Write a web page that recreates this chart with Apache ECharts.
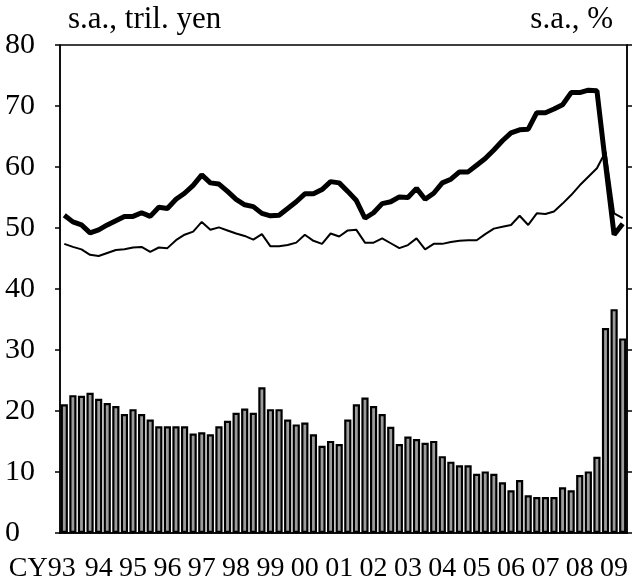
<!DOCTYPE html>
<html>
<head>
<meta charset="utf-8">
<script src="https://cdn.jsdelivr.net/npm/echarts@6/dist/echarts.min.js"></script>
<style>
  html, body { margin: 0; padding: 0; background: #fff; }
  #chart { width: 634px; height: 588px; }
</style>
</head>
<body>
<div id="chart"></div>
<script>
// quarters 1993Q1 - 2009Q2
const years = ['93', '94', '95', '96', '97', '98', '99', '00', '01', '02', '03', '04', '05', '06', '07', '08', '09'];
const quarters = [];
years.forEach(function (y) {
    for (let q = 1; q <= 4; q++) {
        if (y === '09' && q > 2) break;
        quarters.push(y + 'Q' + q);
    }
});

// bars, s.a., tril. yen
const barValues = [
    21.1, 22.6, 22.5, 23.0, 22.0, 21.3, 20.8, 19.5,
    20.3, 19.5, 18.6, 17.5, 17.5, 17.5, 17.5, 16.3,
    16.5, 16.2, 17.5, 18.4, 19.7, 20.4, 19.7, 23.9,
    20.3, 20.3, 18.6, 17.8, 18.1, 16.2, 14.3, 15.1,
    14.6, 18.6, 21.1, 22.2, 20.8, 19.5, 17.4, 14.6,
    15.8, 15.4, 14.8, 15.1, 12.6, 11.7, 11.1, 11.1,
    9.7, 10.1, 9.7, 8.3, 7.0, 8.7, 6.2, 5.9,
    5.9, 5.9, 7.5, 7.0, 9.5, 10.1, 12.5, 33.6,
    36.7, 31.9
];

// thick line, s.a., %
const thickLine = [
    52.1, 51.0, 50.5, 49.2, 49.7, 50.5, 51.2, 51.9,
    51.9, 52.5, 51.9, 53.4, 53.2, 54.7, 55.7, 57.0,
    58.7, 57.4, 57.2, 56.0, 54.7, 53.8, 53.5, 52.4,
    52.0, 52.1, 53.2, 54.3, 55.6, 55.6, 56.3, 57.6,
    57.4, 56.0, 54.5, 51.6, 52.5, 54.0, 54.3, 55.1,
    55.0, 56.5, 54.7, 55.7, 57.4, 58.0, 59.2, 59.2,
    60.3, 61.4, 62.8, 64.3, 65.6, 66.1, 66.2, 68.9,
    68.9, 69.5, 70.2, 72.2, 72.2, 72.6, 72.5, 60.5,
    48.9, 50.7
];

// thin line, s.a., %
const thinLine = [
    47.4, 46.9, 46.5, 45.6, 45.4, 45.9, 46.4, 46.5,
    46.8, 46.9, 46.1, 46.8, 46.7, 48.0, 48.9, 49.4,
    51.0, 49.7, 50.1, 49.6, 49.1, 48.7, 48.1, 49.0,
    47.0, 47.0, 47.2, 47.6, 48.9, 47.9, 47.4, 49.1,
    48.6, 49.6, 49.7, 47.6, 47.6, 48.3, 47.5, 46.7,
    47.2, 48.3, 46.5, 47.4, 47.4, 47.7, 47.9, 48.0,
    48.0, 49.0, 49.9, 50.2, 50.5, 52.0, 50.5, 52.4,
    52.3, 52.7, 54.0, 55.4, 57.0, 58.4, 59.8, 62.5,
    52.4, 51.6
];

const serif = '"Liberation Serif", "Times New Roman", serif';
const myChart = echarts.init(document.getElementById('chart'));

let option = {
    animation: false,
    textStyle: { fontFamily: serif, color: '#000' },
    grid: {
        left: 60,
        right: 7,
        top: 45,
        bottom: 55,
        show: true,
        borderColor: '#000',
        borderWidth: 1.5
    },
    xAxis: {
        type: 'category',
        data: quarters,
        boundaryGap: true,
        axisLine: { lineStyle: { color: '#000', width: 1.5 } },
        axisTick: {
            interval: 3,
            length: 3,
            lineStyle: { color: '#000', width: 1 }
        },
        axisLabel: {
            interval: 3,
            margin: 22,
            fontFamily: serif,
            fontSize: 28,
            color: '#000',
            formatter: function (value, index) {
                const y = value.slice(0, 2);
                return index === 0 ? '{cy|CY' + y + '}' : y;
            },
            rich: {
                cy: {
                    fontFamily: serif,
                    fontSize: 28,
                    color: '#000',
                    padding: [0, 44, 0, 0]
                }
            }
        },
        splitLine: { show: false }
    },
    yAxis: [{
        type: 'value',
        min: 0,
        max: 80,
        interval: 10,
        name: 's.a., tril. yen',
        nameLocation: 'end',
        nameGap: 10,
        nameTextStyle: {
            fontFamily: serif,
            fontSize: 31,
            color: '#000',
            align: 'left',
            padding: [0, 0, 0, 8]
        },
        axisLine: { show: true, lineStyle: { color: '#000', width: 1.5 } },
        axisTick: { show: true, length: 5, lineStyle: { color: '#000', width: 1.5 } },
        axisLabel: {
            margin: 55,
            align: 'left',
            fontFamily: serif,
            fontSize: 30,
            color: '#000'
        },
        splitLine: { show: false }
    }, {
        type: 'value',
        position: 'right',
        min: 0,
        max: 80,
        interval: 10,
        name: 's.a., %',
        nameLocation: 'end',
        nameGap: 10,
        nameTextStyle: {
            fontFamily: serif,
            fontSize: 31,
            color: '#000',
            align: 'right',
            padding: [0, 14, 0, 0]
        },
        axisLine: { show: true, lineStyle: { color: '#000', width: 1.5 } },
        axisTick: { show: true, length: 5, lineStyle: { color: '#000', width: 1.5 } },
        axisLabel: { show: false },
        splitLine: { show: false }
    }],
    series: [{
        name: 'bars',
        type: 'bar',
        yAxisIndex: 0,
        barWidth: 7.2,
        itemStyle: {
            color: '#9c9c9c',
            borderColor: '#000',
            borderWidth: 2.2
        },
        data: barValues
    }, {
        name: 'thin',
        type: 'line',
        yAxisIndex: 1,
        symbol: 'none',
        lineStyle: { color: '#000', width: 2 },
        data: thinLine
    }, {
        name: 'thick',
        type: 'line',
        yAxisIndex: 1,
        symbol: 'none',
        lineStyle: { color: '#000', width: 5 },
        data: thickLine
    }]
};

myChart.setOption(option);
window.addEventListener('resize', function () {
    myChart.resize();
});
</script>
</body>
</html>
